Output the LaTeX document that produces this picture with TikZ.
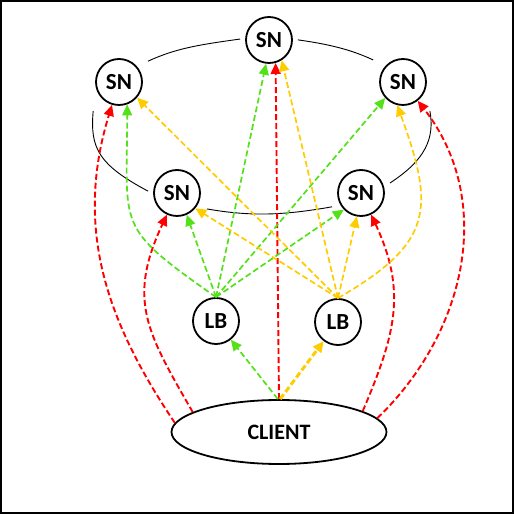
\documentclass[tikz,border=0pt]{standalone}
\usepackage{fontspec}
\setmainfont{Carlito}
\usetikzlibrary{arrows.meta,shapes.geometric}
\definecolor{flowred}{HTML}{FF0000}
\definecolor{flowgreen}{HTML}{55E11A}
\definecolor{flowyellow}{HTML}{FFCC00}

\begin{document}
\begin{tikzpicture}[x=1pt, y=1pt,
    snode/.style={draw, circle, line width=1.8pt, minimum size=46pt, inner sep=0pt, font=\fontsize{23}{26}\selectfont\bfseries},
    clientnode/.style={draw, ellipse, line width=1.8pt, minimum width=215pt, minimum height=64pt, inner sep=0pt, font=\fontsize{22}{26}\selectfont\bfseries},
    ring/.style={line width=0.9pt},
    flow/.style={dash pattern=on 6pt off 3pt, line width=1.7pt, -{Triangle[length=11pt, width=10pt]}},
    redflow/.style={flow, color=flowred, line width=1.9pt},
    greenflow/.style={flow, color=flowgreen},
    yellowflow/.style={flow, color=flowyellow}
]
\useasboundingbox (0,0) rectangle (514,514);
\draw[line width=2pt] (1,1) rectangle (513,513);

% storage nodes
\node[snode] (snT) at (269,474) {SN};
\node[snode] (snTL) at (119,432) {SN};
\node[snode] (snTR) at (403,432) {SN};
\node[snode] (snML) at (177,321) {SN};
\node[snode] (snMR) at (361,321) {SN};

% load balancers and client
\node[snode] (lbL) at (216,193) {LB};
\node[snode] (lbR) at (338,192) {LB};
\node[clientnode] (client) at (279,82) {CLIENT};

% ring
\draw[ring, shorten <=12pt, shorten >=5pt] (snTL.41) to[out=25, in=188] (snT.176);
\draw[ring, shorten <=5pt, shorten >=13.6pt] (snT.2) to[out=-8, in=155] (snTR.137);
\draw[ring, shorten <=22.6pt, shorten >=7pt, looseness=1.2] (snTR.-16) to[out=-80, in=33] (snMR.15);
\draw[ring, shorten <=8.6pt, shorten >=10.8pt] (snMR.211) to[out=190, in=-10] (snML.-36);
\draw[ring, shorten <=5.7pt, shorten >=25.5pt, looseness=1.3] (snML.182) to[out=152, in=265] (snTL.189);

% client to storage
\draw[redflow] (client.north) -- (snT.-74);
\draw[redflow] (client.175) to[out=124, in=253] (snTL);
\draw[redflow, looseness=1.2] (client.167) to[out=120, in=245] (snML);
\draw[redflow, looseness=1.1] (client.14) to[out=67, in=-65] (snMR);
\draw[redflow] (client.8) to[out=44, in=-52] (snTR);

% client to load balancers
\draw[greenflow] (client.92) -- (lbL);
\draw[yellowflow, line width=3pt] (client.88) -- (lbR);

% left load balancer
\draw[greenflow, looseness=1.5] (lbL.north) to[out=145, in=-90] (snTL.-70);
\draw[greenflow] (lbL.north) -- (snML.-66);
\draw[greenflow] (lbL.north) -- (snT.-97);
\draw[greenflow] (lbL.north) -- (snTR.222);
\draw[greenflow] (lbL.north) -- (snMR.224);

% right load balancer
\draw[yellowflow] (lbR.north) -- (snTL.-41);
\draw[yellowflow] (lbR.north) -- (snML.-40);
\draw[yellowflow] (lbR.north) -- (snT.-58);
\draw[yellowflow] (lbR.north) -- (snMR.-100);
\draw[yellowflow, looseness=1.4] (lbR.north) to[out=30, in=-70] (snTR.-104);
\end{tikzpicture}
\end{document}
